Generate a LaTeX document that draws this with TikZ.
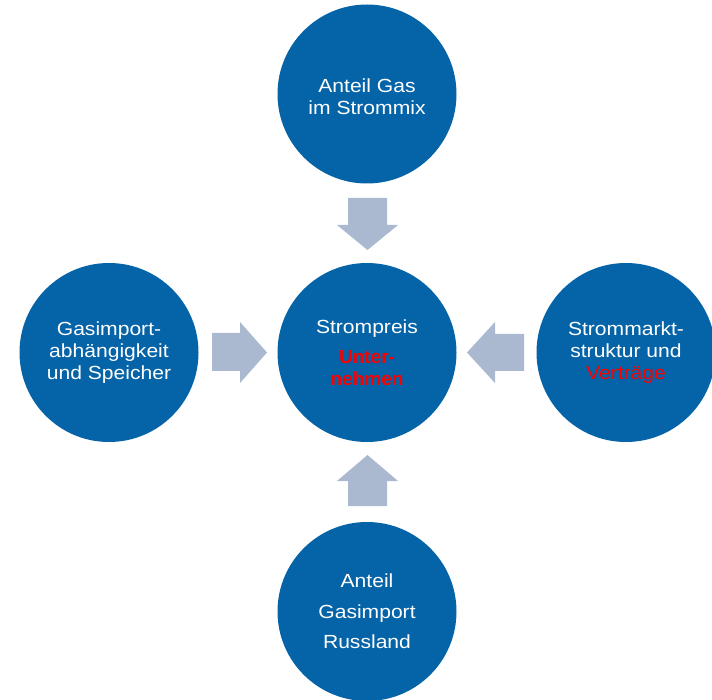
\documentclass[tikz,border=0pt]{standalone}
\usepackage{fontspec}
\setmainfont{Liberation Sans}[FakeStretch=1.11]
\newfontfamily\boldred{Liberation Sans}
\definecolor{discblue}{RGB}{5,99,167}
\definecolor{arrowgrey}{RGB}{170,184,208}
\definecolor{accentred}{RGB}{250,0,0}
\begin{document}
\begin{tikzpicture}[x=1pt,y=-1pt,
  disc/.style={circle,fill=discblue,minimum size=179pt,inner sep=0pt,
    text=white,align=center,font=\fontsize{19}{22}\selectfont},
  blockarrow/.style={fill=arrowgrey}]
\useasboundingbox (0,0) rectangle (712,700);

% factor circles
\node[disc] (gas) at (367,94) {};
\node[align=center,text=white,font=\fontsize{19}{22}\selectfont] (gastext) at (367,96.5) {Anteil Gas\\im Strommix};
\node[disc] (preis) at (367,352.5) {Strompreis\\[8pt]
  {\boldred\fontsize{19}{22}\selectfont\bfseries\color{accentred}Unter-}\\
  {\boldred\fontsize{19}{22}\selectfont\bfseries\color{accentred}nehmen}};
\node[disc] (import) at (109,352.5) {Gasimport-\\abhängigkeit\\und Speicher};
\node[disc] (markt) at (626,352.5) {Strommarkt-\\struktur und\\{\color{accentred}Verträge}};
\node[disc] (russland) at (367,611.5) {Anteil\\[8.5pt]Gasimport\\[8.5pt]Russland};

% block arrows pointing at the central circle
\fill[blockarrow] (348,198) -- (387,198) -- (387,225) -- (398,225) -- (367.5,250)
  -- (337,225) -- (348,225) -- cycle;
\fill[blockarrow] (348,506) -- (387,506) -- (387,481) -- (398,481) -- (367.5,455)
  -- (337,481) -- (348,481) -- cycle;
\fill[blockarrow] (212,333) -- (240,333) -- (240,322) -- (267,352.5) -- (240,383)
  -- (240,371) -- (212,371) -- cycle;
\fill[blockarrow] (524,334) -- (495,334) -- (495,322) -- (467,352.5) -- (495,383)
  -- (495,371) -- (524,371) -- cycle;
\end{tikzpicture}
\end{document}
